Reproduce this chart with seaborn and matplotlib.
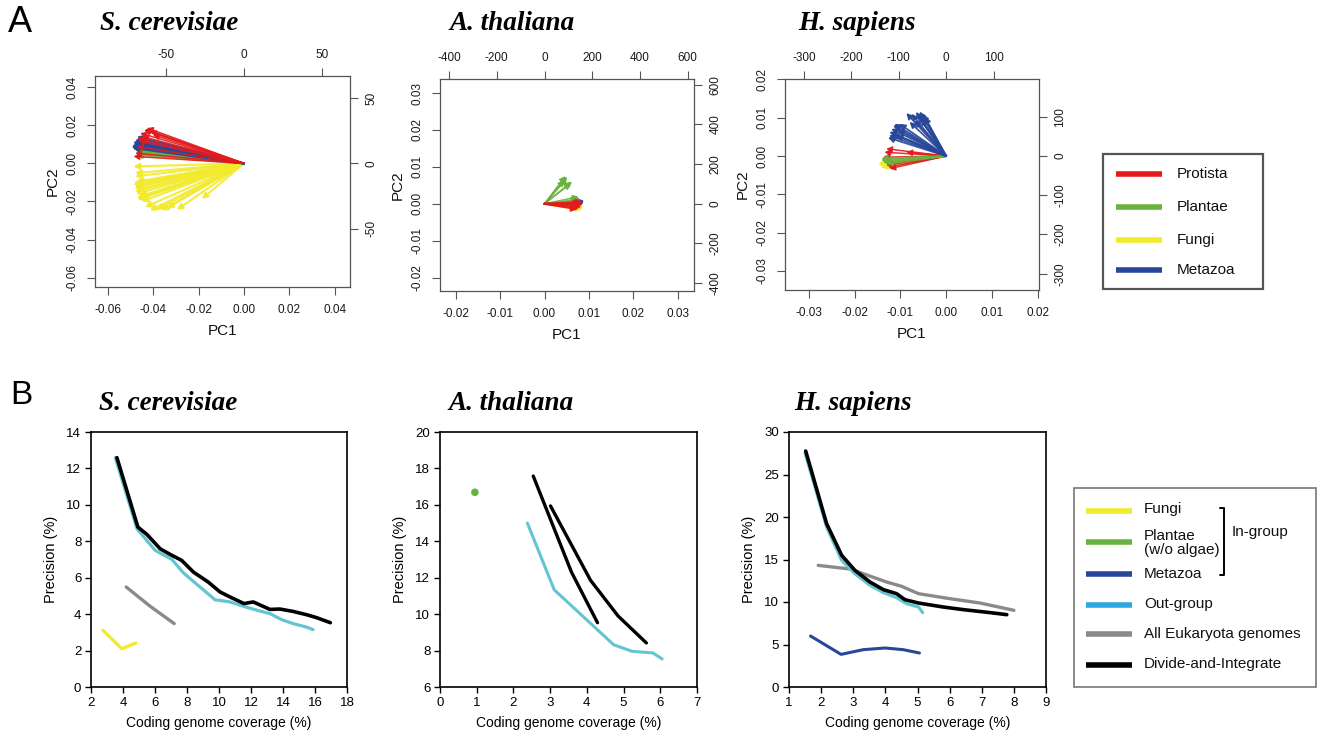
import numpy as np
import pandas as pd
import matplotlib
matplotlib.use("Agg")
import matplotlib.pyplot as plt
import seaborn as sns
from matplotlib.patches import Rectangle

# ---------------- Panel A data: biplot arrow tips (PC1, PC2) ----------------
SC_PROTISTA_PC1 = [-0.0427, -0.0457, -0.0471, -0.0479, -0.0486, -0.0413, -0.0449, -0.0471, -0.0440, -0.0400, -0.0435, -0.0465]
SC_PROTISTA_PC2 = [0.0186, 0.0159, 0.0133, 0.0054, 0.0037, 0.0168, 0.0142, 0.0089, 0.0175, 0.0150, 0.0180, 0.0120]
SC_METAZOA_PC1 = [-0.0493, -0.0490, -0.0486, -0.0479, -0.0471, -0.0464, -0.0482, -0.0475, -0.0495, -0.0488]
SC_METAZOA_PC2 = [0.0095, 0.0081, 0.0105, 0.0124, 0.0140, 0.0131, 0.0115, 0.0100, 0.0088, 0.0112]
SC_PLANTAE_PC1 = [-0.0486, -0.0479, -0.0471, -0.0464, -0.0457, -0.0449, -0.0482, -0.0475, -0.0468, -0.0460]
SC_PLANTAE_PC2 = [0.0107, 0.0070, 0.0054, 0.0079, 0.0096, 0.0060, 0.0088, 0.0045, 0.0065, 0.0085]
SC_FUNGI_PC1 = [-0.0486, -0.0479, -0.0486, -0.0479, -0.0471, -0.0468, -0.0435, -0.0413, -0.0361, -0.0339,
                -0.0295, -0.0185, -0.0471, -0.0479, -0.0457, -0.0383, -0.0479, -0.0482, -0.0475, -0.0450,
                -0.0485, -0.0470]
SC_FUNGI_PC2 = [-0.0016, -0.0068, -0.0112, -0.0147, -0.0182, -0.0191, -0.0229, -0.0247, -0.0247, -0.0235,
                -0.0243, -0.0186, -0.0095, -0.0121, -0.0173, -0.0243, -0.0051, -0.0130, -0.0160, -0.0200,
                -0.0105, -0.0140]

AT_PLANTAE_PC1 = [0.0047, 0.0051, 0.0062, 0.0059, 0.0044, 0.0077, 0.0074, 0.0081, 0.0050]
AT_PLANTAE_PC2 = [0.0075, 0.0073, 0.0060, 0.0055, 0.0064, 0.0019, 0.0012, 0.0010, 0.0068]
AT_PROTISTA_PC1 = [0.0085, 0.0081, 0.0077, 0.0074, 0.0087, 0.0083, 0.0080]
AT_PROTISTA_PC2 = [0.0005, -0.0004, -0.0013, -0.0015, -0.0001, -0.0008, 0.0002]
AT_METAZOA_PC1 = [0.0090, 0.0089]
AT_METAZOA_PC2 = [0.0007, 0.0003]
AT_FUNGI_PC1 = [0.0088, 0.0086, 0.0075]
AT_FUNGI_PC2 = [-0.0010, -0.0014, -0.0015]

HS_METAZOA_PC1 = [-0.0087, -0.0076, -0.0066, -0.0058, -0.0051, -0.0047, -0.0116, -0.0120, -0.0124,
                  -0.0125, -0.0127, -0.0113, -0.0102, -0.0080, -0.0069, -0.0109, -0.0062, -0.0055,
                  -0.0118, -0.0106]
HS_METAZOA_PC2 = [0.0112, 0.0110, 0.0115, 0.0116, 0.0109, 0.0102, 0.0080, 0.0071, 0.0063,
                  0.0054, 0.0048, 0.0084, 0.0084, 0.0089, 0.0093, 0.0054, 0.0105, 0.0098,
                  0.0058, 0.0068]
HS_PROTISTA_PC1 = [-0.0131, -0.0135, -0.0138, -0.0131, -0.0124, -0.0127, -0.0087, -0.0133]
HS_PROTISTA_PC2 = [0.0019, 0.0010, -0.0003, -0.0024, -0.0033, -0.0029, 0.0010, -0.0018]
HS_PLANTAE_PC1 = [-0.0142, -0.0138, -0.0131, -0.0142]
HS_PLANTAE_PC2 = [-0.0011, -0.0016, -0.0020, -0.0007]
HS_FUNGI_PC1 = [-0.0146, -0.0149, -0.0144]
HS_FUNGI_PC2 = [-0.0024, -0.0020, -0.0029]

# ---------------- Panel B data: coverage (%) vs precision (%) ----------------
SC_DI_COV = [3.62, 4.93, 5.49, 6.32, 7.05, 7.67, 8.40, 9.33, 10.06, 10.79, 11.56, 12.14, 13.18, 13.80, 14.63, 15.47, 16.09, 16.96]
SC_DI_PREC = [12.59, 8.78, 8.38, 7.59, 7.23, 6.95, 6.31, 5.76, 5.22, 4.90, 4.58, 4.67, 4.26, 4.28, 4.15, 3.97, 3.81, 3.53]
SC_OUT_COV = [3.52, 4.87, 6.01, 7.05, 7.78, 8.61, 9.23, 9.75, 10.69, 11.52, 12.56, 13.18, 13.91, 14.63, 15.47, 15.88]
SC_OUT_PREC = [12.59, 8.69, 7.50, 7.01, 6.26, 5.64, 5.18, 4.79, 4.67, 4.43, 4.17, 4.03, 3.70, 3.48, 3.29, 3.15]
SC_ALL_COV = [4.20, 5.70, 7.20]
SC_ALL_PREC = [5.49, 4.43, 3.48]
SC_FUNGI_COV = [2.75, 3.93, 4.81]
SC_FUNGI_PREC = [3.11, 2.10, 2.42]

AT_PLANTAE_COV = [0.95]
AT_PLANTAE_PREC = [16.69]
AT_DI1_COV = [2.54, 3.58, 4.29]
AT_DI1_PREC = [17.58, 12.31, 9.53]
AT_DI2_COV = [3.01, 4.10, 4.85, 5.62]
AT_DI2_PREC = [15.94, 11.86, 9.90, 8.42]
AT_OUT_COV = [2.38, 3.11, 4.08, 4.73, 5.23, 5.80, 6.05]
AT_OUT_PREC = [15.00, 11.34, 9.53, 8.32, 7.96, 7.87, 7.54]

HS_DI_COV = [1.52, 2.17, 2.64, 3.05, 3.52, 3.94, 4.35, 4.61, 5.03, 5.80, 6.43, 7.26, 7.78]
HS_DI_PREC = [27.76, 19.22, 15.49, 13.73, 12.35, 11.45, 10.98, 10.27, 9.88, 9.41, 9.10, 8.75, 8.51]
HS_OUT_COV = [1.50, 2.17, 2.64, 3.05, 3.52, 3.94, 4.35, 4.66, 5.03, 5.16]
HS_OUT_PREC = [27.53, 18.82, 14.90, 13.33, 11.96, 11.10, 10.51, 9.80, 9.41, 8.75]
HS_ALL_COV = [1.91, 2.90, 4.04, 4.51, 5.03, 6.01, 6.95, 8.00]
HS_ALL_PREC = [14.31, 13.88, 12.35, 11.84, 10.98, 10.39, 9.88, 9.02]
HS_METAZOA_COV = [1.67, 2.62, 3.31, 3.99, 4.56, 5.06]
HS_METAZOA_PREC = [6.00, 3.84, 4.39, 4.59, 4.39, 4.00]

LEGEND_A = ["Protista", "Plantae", "Fungi", "Metazoa"]
LEGEND_B = ["Fungi", "Plantae\n(w/o algae)", "Metazoa", "Out-group", "All Eukaryota genomes", "Divide-and-Integrate"]

RED = "#E41A1C"
GREEN = "#6AB23E"
YELLOW = "#F2EA2C"
BLUE = "#28479A"
CYAN = "#63C5D2"
CYAN_LEG = "#2BA8E0"
GRAY = "#8A8A8A"
BLACK = "#000000"

sns.set_theme(style="white")
plt.rcParams['font.family'] = ['Liberation Sans', 'DejaVu Sans']
plt.rcParams['axes.unicode_minus'] = False
plt.rcParams['text.color'] = 'black'
plt.rcParams['axes.labelcolor'] = 'black'

W, H = 1317, 736
fig = plt.figure(figsize=(W / 100, H / 100), dpi=100)


def rect(l, r, t, b):
    return [l / W, 1 - b / H, (r - l) / W, (b - t) / H]


def pca_panel(r, groups, xlim, ylim, xticks, yticks, kx, ky, top_ticks, right_ticks):
    ax = fig.add_axes(r)
    for pc1, pc2, color, lw in groups:
        for x, y in zip(pc1, pc2):
            ax.annotate("", xy=(x, y), xytext=(0, 0),
                        arrowprops=dict(arrowstyle="-|>,head_length=0.55,head_width=0.3",
                                        color=color, lw=lw, shrinkA=0, shrinkB=0,
                                        mutation_scale=6, alpha=0.9))
    ax.set_xlim(*xlim)
    ax.set_ylim(*ylim)
    ax.set_xticks(xticks)
    ax.set_xticklabels([f"{v:.2f}" for v in xticks])
    ax.set_yticks(yticks)
    ax.set_yticklabels([f"{v:.2f}" for v in yticks], rotation=90, va="center")
    for s in ax.spines.values():
        s.set_color("#555555")
        s.set_linewidth(0.9)
        s.set_visible(True)
    ax.tick_params(axis="both", direction="out", length=6, width=0.8, color="#555555",
                   labelsize=8.5, labelcolor="#1a1a1a", pad=6,
                   bottom=True, left=True)
    ax.set_xlabel("PC1", fontsize=11, labelpad=6, color="#111111")
    ax.set_ylabel("PC2", fontsize=11, labelpad=5, color="#111111")
    sx = ax.secondary_xaxis("top", functions=(lambda v, k=kx: v * k, lambda v, k=kx: v / k))
    sx.set_xticks(top_ticks)
    sx.set_xticklabels([f"{v:d}" for v in top_ticks])
    sx.tick_params(direction="out", length=6, width=0.8, color="#555555", labelsize=8.5,
                   labelcolor="#1a1a1a", pad=5)
    sx.spines["top"].set_visible(False)
    sy = ax.secondary_yaxis("right", functions=(lambda v, k=ky: v * k, lambda v, k=ky: v / k))
    sy.set_yticks(right_ticks)
    sy.set_yticklabels([f"{v:d}" for v in right_ticks], rotation=90, va="center")
    sy.tick_params(direction="out", length=6, width=0.8, color="#555555", labelsize=8.5,
                   labelcolor="#1a1a1a", pad=5)
    sy.spines["right"].set_visible(False)
    return ax


pca_panel(rect(95, 350, 76, 287),
          [(SC_FUNGI_PC1, SC_FUNGI_PC2, YELLOW, 1.5),
           (SC_PLANTAE_PC1, SC_PLANTAE_PC2, GREEN, 1.5),
           (SC_METAZOA_PC1, SC_METAZOA_PC2, BLUE, 1.5),
           (SC_PROTISTA_PC1, SC_PROTISTA_PC2, RED, 1.1)],
          (-0.0656, 0.0467), (-0.0649, 0.0459),
          [-0.06, -0.04, -0.02, 0.00, 0.02, 0.04], [-0.06, -0.04, -0.02, 0.00, 0.02, 0.04],
          1455, 1457, [-50, 0, 50], [-50, 0, 50])

pca_panel(rect(440, 694, 79, 291),
          [(AT_FUNGI_PC1, AT_FUNGI_PC2, YELLOW, 1.6),
           (AT_METAZOA_PC1, AT_METAZOA_PC2, BLUE, 1.6),
           (AT_PLANTAE_PC1, AT_PLANTAE_PC2, GREEN, 1.1),
           (AT_PROTISTA_PC1, AT_PROTISTA_PC2, RED, 1.4)],
          (-0.02354, 0.03367), (-0.02363, 0.0338),
          [-0.02, -0.01, 0.00, 0.01, 0.02, 0.03], [-0.02, -0.01, 0.00, 0.01, 0.02, 0.03],
          18590, 18605, [-400, -200, 0, 200, 400, 600], [-400, -200, 0, 200, 400, 600])

pca_panel(rect(785, 1039, 79, 290),
          [(HS_FUNGI_PC1, HS_FUNGI_PC2, YELLOW, 1.8),
           (HS_PROTISTA_PC1, HS_PROTISTA_PC2, RED, 1.1),
           (HS_PLANTAE_PC1, HS_PLANTAE_PC2, GREEN, 1.4),
           (HS_METAZOA_PC1, HS_METAZOA_PC2, BLUE, 1.3)],
          (-0.03524, 0.0203), (-0.03495, 0.0201),
          [-0.03, -0.02, -0.01, 0.00, 0.01, 0.02], [-0.03, -0.02, -0.01, 0.00, 0.01, 0.02],
          9642, 9771, [-300, -200, -100, 0, 100], [-300, -200, -100, 0, 100])


def line(ax, x, y, color, lw, **kw):
    sns.lineplot(x=x, y=y, ax=ax, color=color, lw=lw, sort=False, estimator=None, **kw)


def prec_panel(r, xlim, ylim, xticks, yticks):
    ax = fig.add_axes(r)
    ax.set_xlim(*xlim)
    ax.set_ylim(*ylim)
    ax.set_xticks(xticks)
    ax.set_yticks(yticks)
    for s in ax.spines.values():
        s.set_color("black")
        s.set_linewidth(1.2)
        s.set_visible(True)
    ax.tick_params(axis="both", direction="out", length=4, width=1, color="black",
                   labelsize=9.5, labelcolor="black", pad=3, bottom=True, left=True)
    ax.set_xlabel("Coding genome coverage (%)", fontsize=10, labelpad=5)
    ax.set_ylabel("Precision (%)", fontsize=10.5, labelpad=6)
    return ax


b1 = prec_panel(rect(91, 347, 432, 687), (2, 18), (0, 14), range(2, 19, 2), range(0, 15, 2))
line(b1, SC_FUNGI_COV, SC_FUNGI_PREC, YELLOW, 2.4)
line(b1, SC_ALL_COV, SC_ALL_PREC, GRAY, 2.4)
line(b1, SC_OUT_COV, SC_OUT_PREC, CYAN, 2.3)
line(b1, SC_DI_COV, SC_DI_PREC, BLACK, 2.6)

b2 = prec_panel(rect(440, 697, 432, 687), (0, 7), (6, 20), range(0, 8), range(6, 21, 2))
sns.scatterplot(x=AT_PLANTAE_COV, y=AT_PLANTAE_PREC, ax=b2, color=GREEN, s=30, edgecolor="none")
line(b2, AT_OUT_COV, AT_OUT_PREC, CYAN, 2.2)
line(b2, AT_DI1_COV, AT_DI1_PREC, BLACK, 2.4)
line(b2, AT_DI2_COV, AT_DI2_PREC, BLACK, 2.4)
sns.scatterplot(x=AT_DI1_COV + AT_DI2_COV, y=AT_DI1_PREC + AT_DI2_PREC, ax=b2,
                color="#C9C31E", s=3, edgecolor="none")

b3 = prec_panel(rect(789, 1046, 432, 687), (1, 9), (0, 30), range(1, 10), range(0, 31, 5))
line(b3, HS_METAZOA_COV, HS_METAZOA_PREC, BLUE, 2.2)
line(b3, HS_ALL_COV, HS_ALL_PREC, GRAY, 2.4)
line(b3, HS_OUT_COV, HS_OUT_PREC, CYAN, 2.3)
line(b3, HS_DI_COV, HS_DI_PREC, BLACK, 2.6)

# ---------------- overlay: titles, panel letters, legends ----------------
ov = fig.add_axes([0, 0, 1, 1], zorder=10)
ov.set_xlim(0, W)
ov.set_ylim(H, 0)
ov.axis("off")
ov.patch.set_alpha(0)

title_kw = dict(family="Liberation Serif", weight="bold", style="italic", fontsize=19.5,
                va="center", ha="left", color="black")
for x, y, t in [(100, 23, "S. cerevisiae"), (449, 23, "A. thaliana"), (798, 23, "H. sapiens"),
                (99, 403, "S. cerevisiae"), (448, 403, "A. thaliana"), (794, 403, "H. sapiens")]:
    ov.text(x, y, t, **title_kw)
ov.text(8, 23, "A", fontsize=26, va="center", ha="left", color="black")
ov.text(10, 395, "B", fontsize=24, va="center", ha="left", color="black")

# legend A
ov.add_patch(Rectangle((1103, 154), 160, 135, fill=False, edgecolor="#555555", lw=1.6))
for lab, col, y in zip(LEGEND_A, [RED, GREEN, YELLOW, BLUE], [174, 207, 240, 270]):
    ov.plot([1116, 1162], [y, y], color=col, lw=4, solid_capstyle="butt")
    ov.text(1177, y, lab, fontsize=11, va="center", ha="left", color="#111111")

# legend B
ov.add_patch(Rectangle((1074, 488), 242, 199, fill=False, edgecolor="#777777", lw=1.2))
leg_cols = [YELLOW, GREEN, BLUE, CYAN_LEG, GRAY, BLACK]
leg_line_y = [511, 542, 574, 605, 634, 665]
leg_text_y = [509, 543, 574, 604, 634, 664]
for lab, col, ly, ty in zip(LEGEND_B, leg_cols, leg_line_y, leg_text_y):
    ov.plot([1086, 1132], [ly, ly], color=col, lw=4, solid_capstyle="butt")
    ov.text(1144, ty, lab, fontsize=11, va="center", ha="left", color="#111111",
            linespacing=1.05)
ov.plot([1220, 1224, 1224, 1220], [508, 508, 575, 575], color="black", lw=1.4)
ov.text(1232, 532, "In-group", fontsize=11, va="center", ha="left", color="#111111")

fig.savefig("out.png", dpi=100)
